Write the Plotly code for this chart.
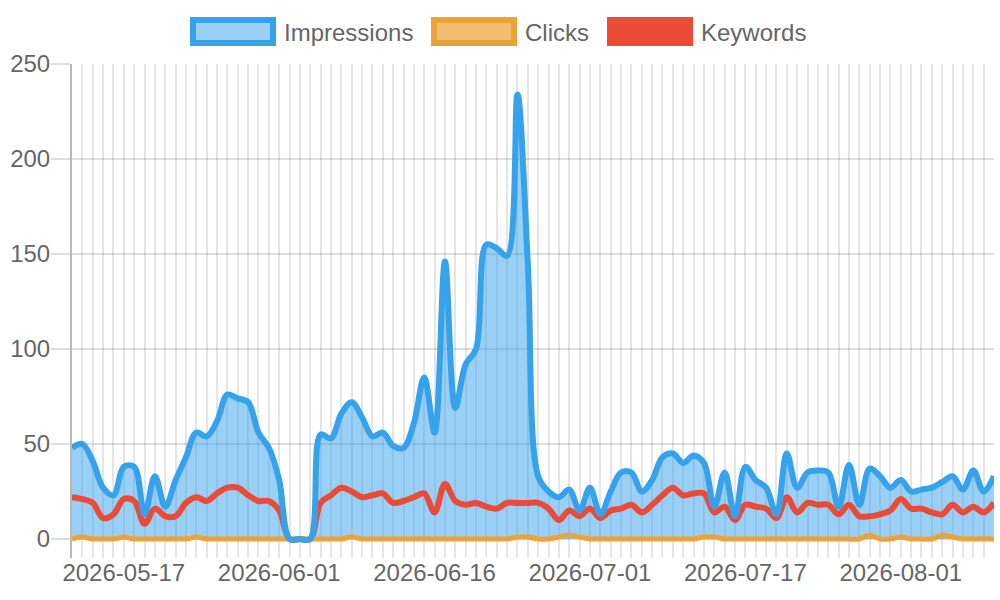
import plotly.graph_objects as go

# daily categories (one day missing in July, as in the source chart)
dates = [
    "2026-05-12", "2026-05-13", "2026-05-14", "2026-05-15", "2026-05-16", "2026-05-17", "2026-05-18", "2026-05-19",
    "2026-05-20", "2026-05-21", "2026-05-22", "2026-05-23", "2026-05-24", "2026-05-25", "2026-05-26", "2026-05-27",
    "2026-05-28", "2026-05-29", "2026-05-30", "2026-05-31", "2026-06-01", "2026-06-02", "2026-06-03", "2026-06-04",
    "2026-06-05", "2026-06-06", "2026-06-07", "2026-06-08", "2026-06-09", "2026-06-10", "2026-06-11", "2026-06-12",
    "2026-06-13", "2026-06-14", "2026-06-15", "2026-06-16", "2026-06-17", "2026-06-18", "2026-06-19", "2026-06-20",
    "2026-06-21", "2026-06-22", "2026-06-23", "2026-06-24", "2026-06-25", "2026-06-26", "2026-06-27", "2026-06-28",
    "2026-06-29", "2026-06-30", "2026-07-01", "2026-07-02", "2026-07-03", "2026-07-04", "2026-07-05", "2026-07-06",
    "2026-07-07", "2026-07-08", "2026-07-10", "2026-07-11", "2026-07-12", "2026-07-13", "2026-07-14", "2026-07-15",
    "2026-07-16", "2026-07-17", "2026-07-18", "2026-07-19", "2026-07-20", "2026-07-21", "2026-07-22", "2026-07-23",
    "2026-07-24", "2026-07-25", "2026-07-26", "2026-07-27", "2026-07-28", "2026-07-29", "2026-07-30", "2026-07-31",
    "2026-08-01", "2026-08-02", "2026-08-03", "2026-08-04", "2026-08-05", "2026-08-06", "2026-08-07", "2026-08-08",
    "2026-08-09", "2026-08-10",
]

impressions = [
    48, 50, 41, 27, 23, 38, 38, 13, 33, 17,
    31, 43, 56, 54, 62, 76, 74, 72, 56, 48,
    31, 0, 0, 0, 55, 53, 66, 72, 64, 54,
    56, 49, 48, 61, 85, 56, 146, 69, 92, 100,
    155, 153, 149, 234, 145, 33, 25, 22, 26, 15,
    27, 13, 25, 35, 35, 25, 31, 43, 45, 40,
    44, 40, 17, 35, 12, 38, 31, 27, 13, 45,
    27, 35, 36, 35, 17, 39, 18, 37, 33, 27,
    31, 25, 26, 27, 30, 33, 26, 36, 25, 33,
]

clicks = [
    0, 1, 0, 0, 0, 1, 0, 0, 0, 0,
    0, 0, 1, 0, 0, 0, 0, 0, 0, 0,
    0, 0, 0, 0, 0, 0, 0, 1, 0, 0,
    0, 0, 0, 0, 0, 0, 0, 0, 0, 0,
    0, 0, 0, 1, 1, 0, 0, 1, 2, 1,
    0, 0, 0, 0, 0, 0, 0, 0, 0, 0,
    0, 1, 1, 0, 0, 0, 0, 0, 0, 0,
    0, 0, 0, 0, 0, 0, 0, 2, 0, 0,
    1, 0, 0, 0, 2, 1, 0, 0, 0, 0,
]

keywords = [
    22, 21, 19, 11, 13, 21, 20, 8, 16, 12,
    12, 19, 22, 20, 24, 27, 27, 23, 20, 20,
    15, 0, 0, 0, 19, 23, 27, 25, 22, 23,
    24, 19, 20, 22, 24, 14, 29, 20, 18, 19,
    17, 16, 19, 19, 19, 19, 16, 10, 15, 12,
    16, 11, 15, 16, 18, 14, 18, 23, 27, 23,
    24, 24, 14, 17, 10, 18, 17, 16, 11, 22,
    14, 19, 18, 18, 13, 18, 12, 12, 13, 15,
    21, 16, 16, 14, 13, 18, 14, 17, 14, 19,
]

label_every = 15
label_start = 5
tick_text = [d if (i - label_start) % label_every == 0 and i >= label_start else "" for i, d in enumerate(dates)]

BLUE = "rgb(54,162,235)"
BLUE_FILL = "rgba(54,162,235,0.5)"
ORANGE = "rgb(235,162,54)"
ORANGE_FILL = "rgba(235,162,54,0.7)"
RED = "rgb(235,74,54)"
FONT = "Liberation Sans, Arial, sans-serif"
TXT = "#666666"

fig = go.Figure()

# fill first, then the lines (first series on top)
fig.add_trace(go.Scatter(x=dates, y=impressions, mode="lines", line=dict(width=0, shape="spline", smoothing=1),
                         fill="tozeroy", fillcolor=BLUE_FILL, hoverinfo="skip", showlegend=False))
fig.add_trace(go.Scatter(x=dates, y=keywords, name="Keywords", mode="lines",
                         line=dict(color=RED, width=6, shape="spline", smoothing=1), showlegend=False))
fig.add_trace(go.Scatter(x=dates, y=clicks, name="Clicks", mode="lines",
                         line=dict(color=ORANGE, width=5, shape="spline", smoothing=1), showlegend=False))
fig.add_trace(go.Scatter(x=dates, y=impressions, name="Impressions", mode="lines",
                         line=dict(color=BLUE, width=6, shape="spline", smoothing=1), showlegend=False))

# plot area in pixels (the y axis runs a little below zero so the
# vertical grid lines stick out under the baseline like tick marks)
L, R, T, B = 72, 994, 64, 558
Y0 = 539  # pixel row of value 0
ymax = 250
ymin = -ymax * (B - Y0) / (Y0 - T)

def px(x):
    return (x - L) / (R - L)
def py(y):
    return (B - y) / (B - T)

legend_items = [
    ("Impressions", BLUE, BLUE_FILL, 193, 282),
    ("Clicks", ORANGE, ORANGE_FILL, 434, 523),
    ("Keywords", RED, RED, 610, 699),
]
shapes = []
annotations = []
for name, col, fillc, bx, tx in legend_items:
    shapes.append(dict(type="rect", xref="paper", yref="paper",
                       x0=px(bx), x1=px(bx + 80), y0=py(43), y1=py(20),
                       line=dict(color=col, width=6), fillcolor=fillc, layer="above"))
    annotations.append(dict(xref="paper", yref="paper", x=px(tx), y=py(32), text=name,
                            showarrow=False, xanchor="left", yanchor="middle",
                            font=dict(family=FONT, size=24, color=TXT)))

fig.update_layout(
    width=1000, height=600,
    margin=dict(l=L, r=1000 - R, t=T, b=600 - B, autoexpand=False),
    plot_bgcolor="white", paper_bgcolor="white",
    font=dict(family=FONT, size=24, color=TXT),
    shapes=shapes, annotations=annotations,
    showlegend=False,
)
fig.update_xaxes(
    type="category", range=[0, len(dates) - 1], automargin=False,
    tickmode="array", tickvals=dates, ticktext=tick_text, tickangle=0,
    showgrid=True, gridcolor="rgba(0,0,0,0.1)", gridwidth=2,
    ticks="", ticklabelstandoff=-2,
    showline=False, zeroline=False,
    tickfont=dict(family=FONT, size=24, color=TXT),
)
fig.update_yaxes(
    range=[ymin, ymax], tickvals=[0, 50, 100, 150, 200, 250], automargin=False,
    showgrid=True, gridcolor="rgba(0,0,0,0.13)", gridwidth=2,
    ticks="outside", ticklen=19, tickwidth=2, tickcolor="rgba(0,0,0,0.13)",
    ticklabelstandoff=-4,
    showline=True, linecolor="rgba(0,0,0,0.28)", linewidth=2, zeroline=False,
    tickfont=dict(family=FONT, size=24, color=TXT),
)

# the page body has a default 8px margin; drop it so the figure sits at 0,0
fig.write_html("out.html", config={"displayModeBar": False},
               post_script="document.body.style.margin='0';")
